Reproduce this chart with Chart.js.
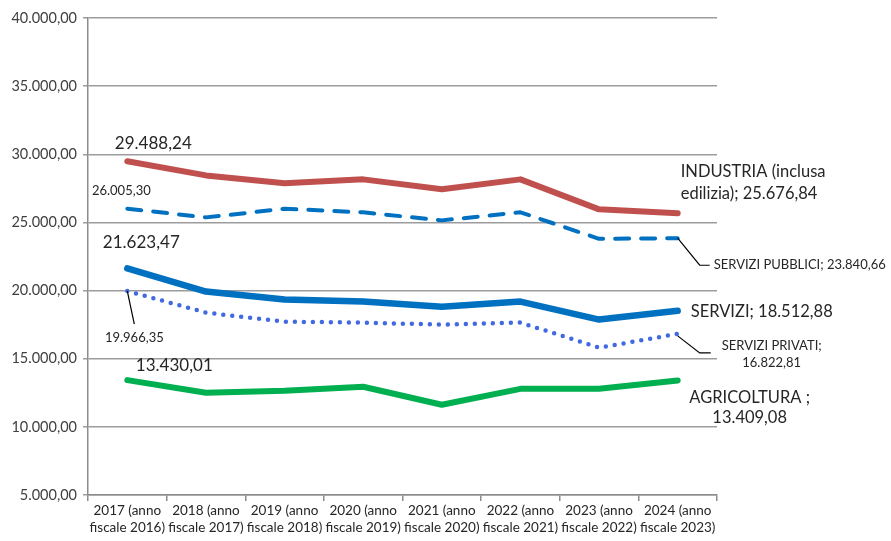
<!DOCTYPE html>
<html>
<head>
<meta charset="utf-8">
<script src="https://cdn.jsdelivr.net/npm/chart.js@4/dist/chart.umd.min.js"></script>
<style>
  html, body { margin: 0; padding: 0; background: #fff; }
  #wrap { width: 891px; height: 541px; }
</style>
</head>
<body>
<div id="wrap"><canvas id="myChart" width="891" height="541"></canvas></div>
<script>
// categories (two-line labels)
const years = [
    ['2017 (anno', 'fiscale 2016)'],
    ['2018 (anno', 'fiscale 2017)'],
    ['2019 (anno', 'fiscale 2018)'],
    ['2020 (anno', 'fiscale 2019)'],
    ['2021 (anno', 'fiscale 2020)'],
    ['2022 (anno', 'fiscale 2021)'],
    ['2023 (anno', 'fiscale 2022)'],
    ['2024 (anno', 'fiscale 2023)']
];

// series values (first and last read from labels, the rest estimated)
const industria = [29488.24, 28450, 27870, 28160, 27430, 28160, 25960, 25676.84];
const serviziPubblici = [26005.30, 25370, 26000, 25740, 25150, 25740, 23800, 23840.66];
const servizi = [21623.47, 19930, 19340, 19190, 18820, 19190, 17870, 18512.88];
const serviziPrivati = [19966.35, 18380, 17720, 17650, 17500, 17650, 15810, 16822.81];
const agricoltura = [13430.01, 12500, 12650, 12940, 11620, 12790, 12790, 13409.08];

const yTicks = [5000, 10000, 15000, 20000, 25000, 30000, 35000, 40000];

const FONT = 'Lato, "Open Sans", sans-serif';

// italian number format: 29.488,24
function fmt(v) {
    const parts = v.toFixed(2).split('.');
    parts[0] = parts[0].replace(/\B(?=(\d{3})+(?!\d))/g, '.');
    return parts.join(',');
}

// data labels drawn next to the first and last points
const labelPlugin = {
    id: 'seriesLabels',
    afterDatasetsDraw(chart) {
        const ctx = chart.ctx;
        const x = chart.scales.x;
        const y = chart.scales.y;
        const first = (arr) => ({ px: x.getPixelForValue(0), py: y.getPixelForValue(arr[0]) });
        const last = (arr) => ({ px: x.getPixelForValue(arr.length - 1), py: y.getPixelForValue(arr[arr.length - 1]) });

        ctx.save();
        ctx.fillStyle = '#262626';
        ctx.textBaseline = 'middle';

        function text(lines, px, py, size, align, lh) {
            ctx.font = size + 'px ' + FONT;
            ctx.textAlign = align;
            lines.forEach((l, i) => ctx.fillText(l, px, py + i * lh));
        }
        function leader(pts) {
            ctx.beginPath();
            ctx.strokeStyle = '#000';
            ctx.lineWidth = 1.2;
            ctx.moveTo(pts[0][0], pts[0][1]);
            pts.slice(1).forEach(p => ctx.lineTo(p[0], p[1]));
            ctx.stroke();
        }

        // left side
        let p = first(industria);
        text([fmt(industria[0])], p.px + 26, p.py - 18, 17, 'center', 0);
        p = first(serviziPubblici);
        text([fmt(serviziPubblici[0])], p.px - 6, p.py - 18, 13, 'center', 0);
        p = first(servizi);
        text([fmt(servizi[0])], p.px + 14, p.py - 26, 17, 'center', 0);
        p = first(serviziPrivati);
        leader([[p.px, p.py], [p.px + 7, p.py + 33]]);
        text([fmt(serviziPrivati[0])], p.px + 7, p.py + 47, 13, 'center', 0);
        p = first(agricoltura);
        text([fmt(agricoltura[0])], p.px + 47, p.py - 15, 17, 'center', 0);

        // right side
        p = last(industria);
        text(['INDUSTRIA (inclusa', 'edilizia); ' + fmt(industria[7])], p.px + 3, p.py - 42, 16.5, 'left', 22);
        p = last(serviziPubblici);
        leader([[p.px, p.py], [p.px + 22, p.py + 27], [p.px + 32, p.py + 27]]);
        text(['SERVIZI PUBBLICI; ' + fmt(serviziPubblici[7])], p.px + 36, p.py + 27, 13, 'left', 0);
        p = last(servizi);
        text(['SERVIZI; ' + fmt(servizi[7])], p.px + 13, p.py + 1, 16.5, 'left', 0);
        p = last(serviziPrivati);
        leader([[p.px, p.py + 2], [p.px + 22, p.py + 19], [p.px + 33, p.py + 19]]);
        text(['SERVIZI PRIVATI;', fmt(serviziPrivati[7])], p.px + 94, p.py + 12, 13, 'center', 17);
        p = last(agricoltura);
        text(['AGRICOLTURA ;', fmt(agricoltura[7])], p.px + 72, p.py + 17, 16.5, 'center', 20);

        ctx.restore();
    }
};

const ctx = document.getElementById('myChart').getContext('2d');
const myChart = new Chart(ctx, {
    type: 'line',
    data: {
        labels: years,
        datasets: [
            { label: 'INDUSTRIA (inclusa edilizia)', data: industria, borderColor: '#C0504D', borderWidth: 6 },
            { label: 'SERVIZI PUBBLICI', data: serviziPubblici, borderColor: '#0070C0', borderWidth: 4, borderDash: [14, 12] },
            { label: 'SERVIZI', data: servizi, borderColor: '#0070C0', borderWidth: 6.5 },
            { label: 'SERVIZI PRIVATI', data: serviziPrivati, borderColor: '#4169E1', borderWidth: 4.5, borderDash: [0, 9], borderCapStyle: 'round' },
            { label: 'AGRICOLTURA', data: agricoltura, borderColor: '#00B050', borderWidth: 6 }
        ]
    },
    options: {
        responsive: false,
        animation: false,
        layout: { padding: { left: 0, right: 174, top: 18, bottom: 0 } },
        elements: {
            point: { radius: 0 },
            line: { tension: 0, fill: false, borderJoinStyle: 'round', borderCapStyle: 'round' }
        },
        plugins: {
            legend: { display: false },
            tooltip: { enabled: false }
        },
        scales: {
            x: {
                offset: true,
                grid: { offset: true, drawOnChartArea: false, drawTicks: true, tickLength: 6, color: '#8C8C8C', lineWidth: 1.5 },
                border: { color: '#8C8C8C', width: 1.5 },
                ticks: { color: '#262626', font: { family: FONT, size: 13.5 }, padding: 2, maxRotation: 0, autoSkip: false },
                afterFit: s => { s.height = 46; }
            },
            y: {
                min: 5000,
                max: 40000,
                afterBuildTicks: s => { s.ticks = yTicks.map(v => ({ value: v })); },
                grid: { color: '#9C9C9C', lineWidth: 1.5, tickLength: 5 },
                border: { color: '#8C8C8C', width: 1.5 },
                ticks: { color: '#404040', font: { family: FONT, size: 14.5 }, padding: 6, callback: v => fmt(v) },
                afterFit: s => { s.width = 88; }
            }
        }
    },
    plugins: [labelPlugin]
});
</script>
</body>
</html>
